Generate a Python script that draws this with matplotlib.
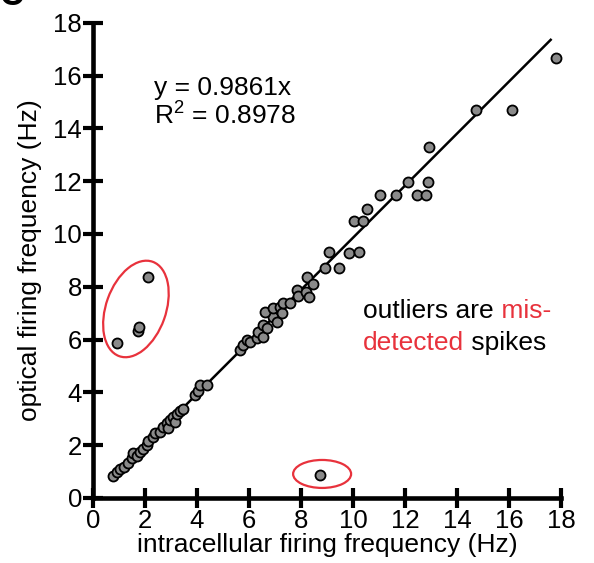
import matplotlib
matplotlib.use("Agg")
import matplotlib.pyplot as plt
from matplotlib.patches import Ellipse

plt.rcParams['font.family'] = ['Liberation Sans', 'DejaVu Sans']
plt.rcParams['mathtext.fontset'] = 'custom'
plt.rcParams['mathtext.rm'] = 'Liberation Sans'

# intracellular (x) vs optical (y) firing frequency, Hz
intra = [0.78, 0.91, 1.04, 1.19, 1.36, 1.49, 1.55, 1.68, 1.81, 1.93,
         2.06, 2.13, 2.32, 2.38, 2.58, 2.70, 2.83, 2.90, 2.96, 3.09,
         3.15, 3.22, 3.35, 3.47, 3.92, 4.05, 4.12, 4.37,
         5.65, 5.76, 5.91, 6.04, 6.30, 6.36, 6.55, 6.55, 6.68, 6.91,
         7.07, 6.62, 6.93, 7.19, 7.26, 7.32, 7.58, 7.83, 7.90, 8.19,
         8.24, 8.32, 8.47,
         8.93, 9.47, 9.09, 9.85, 10.22, 10.04, 10.40, 10.53, 11.04, 11.64,
         12.46, 12.81, 12.12, 12.87, 12.91, 14.73, 16.12, 17.80]
optical = [0.83, 1.00, 1.09, 1.19, 1.31, 1.50, 1.69, 1.59, 1.75, 1.84,
           2.00, 2.17, 2.32, 2.47, 2.51, 2.70, 2.83, 2.64, 2.95, 3.08,
           2.89, 3.18, 3.31, 3.36, 3.90, 4.06, 4.28, 4.28,
           5.61, 5.80, 5.98, 5.92, 6.05, 6.30, 6.11, 6.55, 6.43, 6.87,
           6.68, 7.06, 7.18, 7.25, 7.00, 7.37, 7.37, 7.88, 7.65, 7.81,
           8.38, 7.62, 8.11,
           8.70, 8.70, 9.32, 9.29, 9.33, 10.50, 10.50, 10.94, 11.48, 11.48,
           11.48, 11.48, 11.97, 11.96, 13.30, 14.71, 14.71, 16.66]

# mis-detected spikes
out_intra = [0.93, 1.72, 1.78, 2.13, 8.73]
out_optical = [5.88, 6.33, 6.49, 8.38, 0.87]

slope = 0.9861
r2 = 0.8978
fit_x = [0.72, 17.6]

ticks = list(range(0, 19, 2))
red = '#e8323c'
fs = 19

fig = plt.figure(figsize=(5.94, 5.63), dpi=100)
ax = fig.add_axes([0.1566, 0.1155, 0.788, 0.844])

ax.plot(fit_x, [slope * v for v in fit_x], color='black', lw=1.8, zorder=2)
ax.scatter(intra + out_intra, optical + out_optical, s=52, c='#8a8a8a',
           edgecolors='black', linewidths=1.3, zorder=3, clip_on=False)

ax.add_patch(Ellipse((1.65, 7.16), 2.3, 3.8, angle=-20, fill=False,
                     ec=red, lw=1.6, zorder=4))
ax.add_patch(Ellipse((8.81, 0.91), 2.23, 1.06, fill=False,
                     ec=red, lw=1.6, zorder=4))

ax.text(2.35, 15.25, 'y = %.4fx' % slope, fontsize=fs, va='baseline')
ax.text(2.35, 14.2, r'R$^{\mathregular{2}}$ = %.4f' % r2, fontsize=fs,
        va='baseline')

t1 = ax.text(10.38, 6.82, 'outliers are', fontsize=fs, va='baseline')
ax.annotate(' mis-', xy=(1, 0), xycoords=t1, va='bottom', ha='left',
            fontsize=fs, color=red)
t2 = ax.text(10.38, 5.61, 'detected', fontsize=fs, va='baseline',
             color=red)
ax.annotate(' spikes', xy=(1, 0), xycoords=t2, va='bottom', ha='left',
            fontsize=fs)

ax.set_xlim(0, 18)
ax.set_ylim(0, 18)
ax.set_xticks(ticks)
ax.set_yticks(ticks)
ax.tick_params(direction='inout', length=14, width=3, labelsize=18.5,
               pad=1)
for s in ['top', 'right']:
    ax.spines[s].set_visible(False)
for s in ['left', 'bottom']:
    ax.spines[s].set_linewidth(3.3)

ax.set_xlabel('intracellular firing frequency (Hz)', fontsize=fs, labelpad=0)
ax.set_ylabel('optical firing frequency (Hz)', fontsize=fs, labelpad=8)

# panel letter, mostly cut off at the top edge
fig.text(0.0, 1 - 5 / 563, 'C', fontsize=24, fontweight='bold',
         va='baseline', ha='left')

fig.savefig('out.png', dpi=100)
